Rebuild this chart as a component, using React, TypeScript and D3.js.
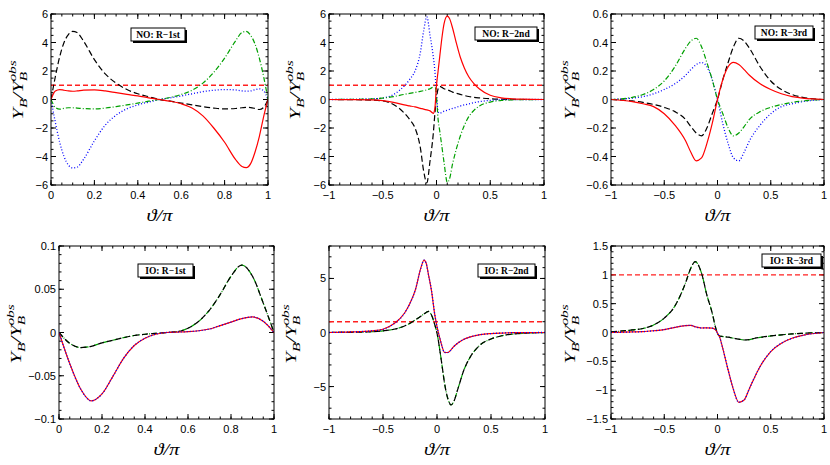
import { useEffect, useRef } from 'react';
import * as d3 from 'd3';

// ---- NO: R-1st (x = theta/pi in [0, 1])
const no1X = [0, 0.02, 0.04, 0.06, 0.08, 0.1, 0.12, 0.15, 0.2, 0.25, 0.3, 0.35, 0.4, 0.45, 0.5, 0.55, 0.6, 0.65, 0.7, 0.75, 0.8, 0.85, 0.88, 0.9, 0.92, 0.94, 0.96, 0.98, 1];
const no1Black = [0, 1.6, 3.0, 4.0, 4.55, 4.78, 4.7, 4.1, 2.8, 1.8, 1.15, 0.7, 0.4, 0.2, 0, -0.12, -0.25, -0.38, -0.5, -0.6, -0.66, -0.63, -0.58, -0.55, -0.57, -0.63, -0.7, -0.55, 0];
const no1Red = [0, 0.6, 0.7, 0.65, 0.6, 0.58, 0.6, 0.66, 0.68, 0.6, 0.48, 0.36, 0.25, 0.12, 0, -0.12, -0.3, -0.6, -1.15, -2.0, -3.0, -4.2, -4.7, -4.78, -4.5, -3.7, -2.6, -1.2, 0];
const no1Blue = [0, -1.6, -3.0, -4.0, -4.6, -4.8, -4.75, -4.2, -2.9, -1.8, -1.1, -0.65, -0.38, -0.18, 0, 0.12, 0.25, 0.4, 0.55, 0.65, 0.7, 0.67, 0.6, 0.58, 0.6, 0.68, 0.75, 0.6, 0];
const no1Green = [0, -0.55, -0.68, -0.62, -0.58, -0.58, -0.6, -0.64, -0.66, -0.6, -0.5, -0.38, -0.25, -0.12, 0, 0.15, 0.35, 0.65, 1.15, 1.9, 2.9, 4.1, 4.7, 4.78, 4.5, 3.9, 2.9, 1.6, 0];

// ---- NO: R-2nd
const no2X = [-1, -0.8, -0.6, -0.5, -0.4, -0.3, -0.25, -0.2, -0.15, -0.12, -0.09, -0.06, -0.03, -0.015, 0, 0.015, 0.03, 0.05, 0.07, 0.1, 0.12, 0.15, 0.18, 0.22, 0.26, 0.3, 0.35, 0.4, 0.5, 0.6, 0.7, 0.8, 1];
const no2Red = [0, -0.01, -0.03, -0.08, -0.2, -0.38, -0.45, -0.52, -0.62, -0.67, -0.73, -0.8, -0.97, -0.6, 1.0, 2.0, 3.0, 4.3, 5.3, 5.85, 5.7, 5.0, 4.1, 3.0, 2.2, 1.6, 1.1, 0.74, 0.3, 0.12, 0.05, 0.02, 0];
const no2Black = [0, -0.01, -0.04, -0.1, -0.35, -0.95, -1.4, -2.0, -3.4, -5.0, -5.85, -4.3, -2.4, -1.0, 0.1, 0.75, 0.92, 0.85, 0.76, 0.68, 0.62, 0.52, 0.45, 0.36, 0.28, 0.21, 0.15, 0.11, 0.05, 0.02, 0.01, 0, 0];
const no2Blue = [0, 0.01, 0.04, 0.1, 0.35, 0.95, 1.4, 2.0, 3.3, 4.8, 5.8, 4.5, 3.0, 2.0, 0.3, -0.85, -0.97, -0.9, -0.82, -0.75, -0.7, -0.62, -0.56, -0.46, -0.38, -0.31, -0.22, -0.15, -0.06, -0.02, -0.01, 0, 0];
const no2Green = [0, 0.01, 0.04, 0.1, 0.2, 0.36, 0.43, 0.5, 0.57, 0.62, 0.68, 0.76, 0.9, 0.98, 0.2, -1.4, -2.2, -3.3, -4.4, -5.8, -5.6, -4.5, -3.6, -2.6, -1.8, -1.2, -0.75, -0.45, -0.18, -0.07, -0.03, -0.01, 0];

// ---- NO: R-3rd
const no3X = [-1, -0.8, -0.7, -0.6, -0.5, -0.4, -0.3, -0.25, -0.2, -0.15, -0.1, -0.05, 0, 0.05, 0.1, 0.15, 0.2, 0.25, 0.3, 0.4, 0.5, 0.6, 0.7, 0.8, 1];
const no3Black = [0, -0.01, -0.02, -0.035, -0.055, -0.085, -0.14, -0.19, -0.235, -0.255, -0.2, -0.1, 0, 0.14, 0.26, 0.37, 0.43, 0.41, 0.36, 0.23, 0.13, 0.07, 0.035, 0.015, 0];
const no3Red = [0, -0.015, -0.03, -0.05, -0.1, -0.18, -0.29, -0.37, -0.43, -0.41, -0.31, -0.17, 0, 0.14, 0.23, 0.26, 0.245, 0.21, 0.17, 0.11, 0.07, 0.04, 0.02, 0.01, 0];
const no3Green = [0, 0.015, 0.035, 0.07, 0.13, 0.23, 0.36, 0.41, 0.43, 0.37, 0.26, 0.14, 0, -0.1, -0.2, -0.255, -0.235, -0.19, -0.14, -0.085, -0.055, -0.035, -0.02, -0.01, 0];
const no3Blue = [0, 0.01, 0.02, 0.04, 0.07, 0.11, 0.17, 0.21, 0.245, 0.26, 0.23, 0.14, 0, -0.17, -0.31, -0.41, -0.43, -0.37, -0.29, -0.18, -0.1, -0.05, -0.03, -0.015, 0];

// ---- IO: R-1st
const io1X = [0, 0.05, 0.1, 0.15, 0.2, 0.25, 0.3, 0.35, 0.4, 0.45, 0.5, 0.55, 0.6, 0.65, 0.7, 0.75, 0.8, 0.85, 0.9, 0.95, 1];
const io1Black = [0, -0.0125, -0.0174, -0.016, -0.012, -0.009, -0.006, -0.0035, -0.002, -0.001, 0, 0.001, 0.005, 0.013, 0.026, 0.044, 0.065, 0.078, 0.065, 0.034, 0];
const io1Red = [0, -0.036, -0.065, -0.079, -0.071, -0.051, -0.03, -0.015, -0.0066, -0.002, 0, 0.0005, 0.001, 0.002, 0.004, 0.008, 0.012, 0.016, 0.018, 0.013, 0];

// ---- IO: R-2nd
const io2X = [-1, -0.8, -0.6, -0.5, -0.4, -0.3, -0.25, -0.2, -0.15, -0.12, -0.1, -0.08, -0.05, -0.02, 0, 0.03, 0.05, 0.07, 0.1, 0.13, 0.15, 0.2, 0.25, 0.3, 0.4, 0.5, 0.6, 0.7, 0.8, 1];
const io2Red = [0, 0.05, 0.15, 0.3, 0.8, 1.8, 2.7, 3.95, 5.95, 6.7, 6.4, 5.4, 3.8, 1.6, 0.55, -0.68, -1.4, -1.85, -1.85, -1.6, -1.36, -0.93, -0.62, -0.43, -0.2, -0.1, -0.05, -0.02, -0.01, 0];
const io2Black = [0, 0.02, 0.08, 0.15, 0.3, 0.6, 0.85, 1.17, 1.5, 1.72, 1.85, 1.95, 1.6, 0.7, -0.05, -1.9, -3.3, -4.7, -6.1, -6.7, -6.5, -5.0, -3.45, -2.4, -1.15, -0.6, -0.3, -0.15, -0.07, 0];

// ---- IO: R-3rd
const io3X = [-1, -0.8, -0.7, -0.6, -0.5, -0.4, -0.3, -0.25, -0.21, -0.15, -0.1, -0.05, -0.02, 0, 0.02, 0.05, 0.1, 0.15, 0.2, 0.25, 0.3, 0.35, 0.4, 0.5, 0.6, 0.7, 0.8, 1];
const io3Black = [0.01, 0.045, 0.07, 0.13, 0.25, 0.46, 0.86, 1.12, 1.23, 1.03, 0.65, 0.34, 0.1, -0.02, -0.06, -0.07, -0.08, -0.1, -0.115, -0.13, -0.125, -0.1, -0.085, -0.06, -0.04, -0.025, -0.015, 0];
const io3Red = [0, 0.01, 0.015, 0.03, 0.05, 0.09, 0.12, 0.125, 0.1, 0.078, 0.08, 0.075, 0.05, -0.01, -0.08, -0.28, -0.65, -0.99, -1.21, -1.17, -0.97, -0.77, -0.59, -0.33, -0.185, -0.1, -0.05, 0];

const observed = 1; // red dashed reference line

type Style = 'red' | 'black' | 'blue' | 'green';
interface Series { style: Style; x: number[]; y: number[] }
interface Panel {
  frame: [number, number, number, number]; // left, right, top, bottom
  xDomain: [number, number];
  yDomain: [number, number];
  xStep: [number, number]; // major, minor
  yStep: [number, number];
  label: string;
  box: [number, number, number, number];
  yLabel: [number, number];
  series: Series[];
}

const panels: Panel[] = [
  {
    frame: [51, 268, 14, 185], xDomain: [0, 1], yDomain: [-6, 6], xStep: [0.2, 0.05], yStep: [2, 0.5],
    label: 'NO: R\u22121st', box: [131, 28, 54, 13], yLabel: [23, 90],
    series: [
      { style: 'black', x: no1X, y: no1Black },
      { style: 'blue', x: no1X, y: no1Blue },
      { style: 'green', x: no1X, y: no1Green },
      { style: 'red', x: no1X, y: no1Red },
    ],
  },
  {
    frame: [329, 544, 14, 185], xDomain: [-1, 1], yDomain: [-6, 6], xStep: [0.5, 0.1], yStep: [2, 0.5],
    label: 'NO: R\u22122nd', box: [475, 27, 62, 13], yLabel: [300, 90],
    series: [
      { style: 'black', x: no2X, y: no2Black },
      { style: 'blue', x: no2X, y: no2Blue },
      { style: 'green', x: no2X, y: no2Green },
      { style: 'red', x: no2X, y: no2Red },
    ],
  },
  {
    frame: [611, 824, 14, 185], xDomain: [-1, 1], yDomain: [-0.6, 0.6], xStep: [0.5, 0.1], yStep: [0.2, 0.05],
    label: 'NO: R\u22123rd', box: [755, 26, 58, 13], yLabel: [575, 90],
    series: [
      { style: 'black', x: no3X, y: no3Black },
      { style: 'blue', x: no3X, y: no3Blue },
      { style: 'green', x: no3X, y: no3Green },
      { style: 'red', x: no3X, y: no3Red },
    ],
  },
  {
    frame: [59, 274, 246, 419], xDomain: [0, 1], yDomain: [-0.1, 0.1], xStep: [0.2, 0.05], yStep: [0.05, 0.01],
    label: 'IO: R\u22121st', box: [138, 264, 55, 13], yLabel: [21, 334],
    series: [
      { style: 'green', x: io1X, y: io1Black },
      { style: 'black', x: io1X, y: io1Black },
      { style: 'red', x: io1X, y: io1Red },
      { style: 'blue', x: io1X, y: io1Red },
    ],
  },
  {
    frame: [329, 545, 246, 419], xDomain: [-1, 1], yDomain: [-8, 8], xStep: [0.5, 0.1], yStep: [5, 1],
    label: 'IO: R\u22122nd', box: [478, 264, 57, 13], yLabel: [296, 334],
    series: [
      { style: 'green', x: io2X, y: io2Black },
      { style: 'black', x: io2X, y: io2Black },
      { style: 'red', x: io2X, y: io2Red },
      { style: 'blue', x: io2X, y: io2Red },
    ],
  },
  {
    frame: [611, 824, 246, 419], xDomain: [-1, 1], yDomain: [-1.5, 1.5], xStep: [0.5, 0.1], yStep: [0.5, 0.1],
    label: 'IO: R\u22123rd', box: [762, 254, 59, 13], yLabel: [575, 334],
    series: [
      { style: 'green', x: io3X, y: io3Black },
      { style: 'black', x: io3X, y: io3Black },
      { style: 'red', x: io3X, y: io3Red },
      { style: 'blue', x: io3X, y: io3Red },
    ],
  },
];

const styles: Record<Style, { stroke: string; dash: string | null; width: number }> = {
  red: { stroke: '#ff0000', dash: null, width: 1.2 },
  black: { stroke: '#000000', dash: '6,3', width: 1.2 },
  blue: { stroke: '#0000ff', dash: '1,2', width: 1.3 },
  green: { stroke: '#00a000', dash: '5,2,1,2', width: 1.2 },
};

const sans = '"Liberation Sans", Arial, sans-serif';
const serif = '"Liberation Serif", "Times New Roman", serif';

function steps(lo: number, hi: number, step: number) {
  const out: number[] = [];
  const a = Math.ceil(lo / step - 1e-9);
  const b = Math.floor(hi / step + 1e-9);
  for (let i = a; i <= b; i++) out.push(Math.round(i * step * 1e6) / 1e6);
  return out;
}

export default function App() {
  const svgRef = useRef<SVGSVGElement>(null);

  useEffect(() => {
    const svg = d3.select(svgRef.current);
    svg.selectAll('*').remove();
    const fmt = d3.format('~g');

    panels.forEach((p, i) => {
      const [l, r, t, b] = p.frame;
      const x = d3.scaleLinear().domain(p.xDomain).range([l, r]);
      const y = d3.scaleLinear().domain(p.yDomain).range([b, t]);
      const g = svg.append('g');

      g.append('clipPath').attr('id', `clip${i}`)
        .append('rect').attr('x', l).attr('y', t).attr('width', r - l).attr('height', b - t);

      // ticks on all four sides, pointing inward
      const ticks = g.append('g').attr('stroke', '#000').attr('stroke-width', 1);
      const drawX = (vals: number[], len: number) => vals.forEach(v => {
        ticks.append('line').attr('x1', x(v)).attr('x2', x(v)).attr('y1', b).attr('y2', b - len);
        ticks.append('line').attr('x1', x(v)).attr('x2', x(v)).attr('y1', t).attr('y2', t + len);
      });
      const drawY = (vals: number[], len: number) => vals.forEach(v => {
        ticks.append('line').attr('y1', y(v)).attr('y2', y(v)).attr('x1', l).attr('x2', l + len);
        ticks.append('line').attr('y1', y(v)).attr('y2', y(v)).attr('x1', r).attr('x2', r - len);
      });
      drawX(steps(p.xDomain[0], p.xDomain[1], p.xStep[1]), 2.5);
      drawX(steps(p.xDomain[0], p.xDomain[1], p.xStep[0]), 5);
      drawY(steps(p.yDomain[0], p.yDomain[1], p.yStep[1]), 2.5);
      drawY(steps(p.yDomain[0], p.yDomain[1], p.yStep[0]), 5);

      // tick labels
      steps(p.xDomain[0], p.xDomain[1], p.xStep[0]).forEach(v => {
        g.append('text').attr('x', x(v)).attr('y', b + 14).attr('text-anchor', 'middle')
          .attr('font-family', sans).attr('font-size', 11).text(fmt(v));
      });
      steps(p.yDomain[0], p.yDomain[1], p.yStep[0]).forEach(v => {
        g.append('text').attr('x', l - 3).attr('y', y(v) + 4).attr('text-anchor', 'end')
          .attr('font-family', sans).attr('font-size', 11).text(fmt(v));
      });

      // curves
      const plot = g.append('g').attr('clip-path', `url(#clip${i})`);
      if (observed >= p.yDomain[0] && observed <= p.yDomain[1]) {
        plot.append('line').attr('x1', l).attr('x2', r).attr('y1', y(observed)).attr('y2', y(observed))
          .attr('stroke', '#ff2020').attr('stroke-width', 1.4).attr('stroke-dasharray', '5,3');
      }
      const line = d3.line<[number, number]>().x(d => x(d[0])).y(d => y(d[1])).curve(d3.curveMonotoneX);
      p.series.forEach(s => {
        const st = styles[s.style];
        const pts = s.x.map((xv, k) => [xv, s.y[k]] as [number, number]);
        const path = plot.append('path').attr('d', line(pts)).attr('fill', 'none')
          .attr('stroke', st.stroke).attr('stroke-width', st.width);
        if (st.dash) path.attr('stroke-dasharray', st.dash);
      });

      // frame
      g.append('rect').attr('x', l).attr('y', t).attr('width', r - l).attr('height', b - t)
        .attr('fill', 'none').attr('stroke', '#000').attr('stroke-width', 1);

      // legend box with shadow
      const [bx, by, bw, bh] = p.box;
      g.append('rect').attr('x', bx + 2).attr('y', by + 2).attr('width', bw).attr('height', bh).attr('fill', '#000');
      g.append('rect').attr('x', bx).attr('y', by).attr('width', bw).attr('height', bh)
        .attr('fill', '#fff').attr('stroke', '#000').attr('stroke-width', 1);
      g.append('text').attr('x', bx + bw / 2).attr('y', by + bh / 2 + 3.5).attr('text-anchor', 'middle')
        .attr('font-family', serif).attr('font-weight', 'bold').attr('font-size', 9.5).text(p.label);

      // axis titles
      g.append('text')
        .attr('transform', `translate(${(l + r) / 2},${b + 36}) scale(1.2,1)`)
        .attr('text-anchor', 'middle')
        .attr('font-family', serif).attr('font-style', 'italic').attr('font-size', 17)
        .text('\u03d1/\u03c0');

      const yl = g.append('text')
        .attr('transform', `translate(${p.yLabel[0]},${p.yLabel[1]}) rotate(-90) scale(1.4,1)`)
        .attr('text-anchor', 'middle').attr('font-family', serif).attr('font-style', 'italic').attr('font-size', 15);
      yl.append('tspan').text('Y');
      yl.append('tspan').attr('font-size', 11).attr('dy', 4).text('B');
      yl.append('tspan').attr('dy', -4).text('/Y');
      yl.append('tspan').attr('font-size', 11).attr('dy', 4).text('B');
      yl.append('tspan').attr('font-size', 11).attr('dx', -7).attr('dy', -11).text('obs');
    });
  }, []);

  return (
    <svg
      ref={svgRef}
      width={830}
      height={465}
      style={{ position: 'absolute', left: 0, top: 0, background: '#fff' }}
    />
  );
}
